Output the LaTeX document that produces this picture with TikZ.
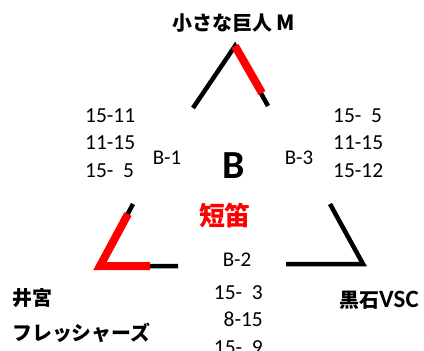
\documentclass[tikz,border=0pt]{standalone}
\usepackage{fontspec}
\setmainfont{Carlito}
\newfontfamily\jp{Noto Sans CJK JP}
\begin{document}
\begin{tikzpicture}[x=1bp, y=-1bp,
  bracket/.style={line width=4.5bp, black},
  won/.style={line width=8bp, red},
  score/.style={font=\fontsize{21.5}{27.5}\selectfont, inner sep=0pt},
  match/.style={font=\fontsize{21}{24}\selectfont, inner sep=0pt},
  team/.style={font=\jp\bfseries\fontsize{20}{24}\selectfont, inner sep=0pt}]
  \useasboundingbox (0,0) rectangle (424,351);

  % 1. Corners of the three brackets
  \coordinate (topL) at (193,108);
  \coordinate (topA) at (235,46);
  \coordinate (topR) at (268,106);
  \coordinate (topW) at (262,93);
  \coordinate (leftT) at (133,204);
  \coordinate (leftW) at (128,214);
  \coordinate (leftC) at (100,266);
  \coordinate (leftE) at (178,266);
  \coordinate (leftH) at (150,266);
  \coordinate (rightT) at (330,204);
  \coordinate (rightC) at (363,264);
  \coordinate (rightE) at (286,264);

  % 2. Black bracket lines, red where the team won
  \draw[bracket] (topL) -- (topA) -- (topR);
  \draw[won] (topA) -- (topW);
  \draw[bracket] (leftT) -- (leftC) -- (leftE);
  \draw[won] (leftW) -- (leftC) -- (leftH);
  \draw[bracket] (rightT) -- (rightC) -- (rightE);

  % 3. Teams at the corners
  \node[team] (teamM) at (234,23) {小さな巨人 {\fontsize{21}{24}\selectfont M}};
  \node[team, anchor=west] (teamI) at (12,298) {井宮};
  \node[team, anchor=west] (teamF) at (12,333) {フレッシャーズ};
  \node[team] (teamK) at (379,300) {黒石{\normalfont\bfseries\fontsize{25}{24}\selectfont VSC}};

  % 4. Match labels and set scores
  \node[match] (b1) at (167,158) {B-1};
  \node[match] (b2) at (237,260) {B-2};
  \node[match] (b3) at (299,158) {B-3};
  \node[score, align=left, anchor=west] (s1) at (85,143) {15-11\\11-15\\15-\ \ 5};
  \node[score, align=left, anchor=west] (s3) at (333,143) {15-\ \ 5\\11-15\\15-12};
  \node[score, align=right, anchor=east] (s2) at (263,320) {15-\ \ 3\\8-15\\15-\ \ 9};

  % 5. Block name and winner
  \node[font=\bfseries\fontsize{40}{40}\selectfont, inner sep=0pt] (blk) at (234,166) {B};
  \node[font=\jp\bfseries\fontsize{26}{26}\selectfont, text=red, inner sep=0pt] (win) at (225,216) {短笛};
\end{tikzpicture}
\end{document}
